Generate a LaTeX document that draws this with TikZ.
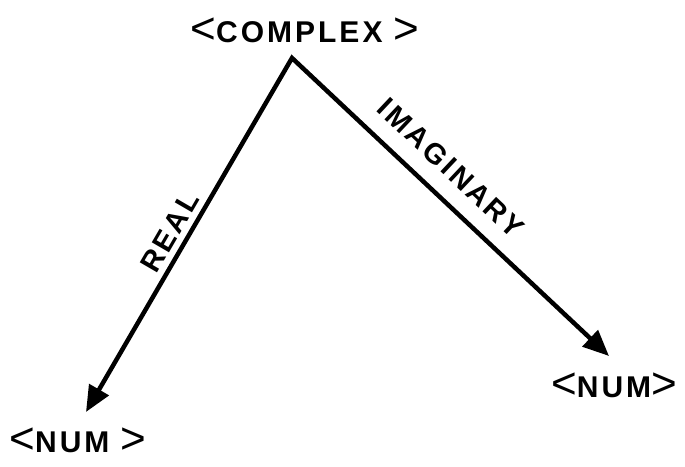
\documentclass[tikz,border=0pt]{standalone}
\usepackage{fontspec}
\setmainfont{Liberation Sans}
\usetikzlibrary{arrows.meta}
\newcommand{\lt}{{\mdseries\fontsize{44}{44}\selectfont\raisebox{-1pt}{<}}}
\newcommand{\gt}{{\mdseries\fontsize{44}{44}\selectfont\raisebox{-1pt}{>}}}
\begin{document}
\begin{tikzpicture}[x=1pt,y=-1pt,
  lbl/.style={inner sep=0pt, font=\fontsize{30}{30}\selectfont\bfseries\addfontfeature{LetterSpace=10}},
  elbl/.style={inner sep=0pt, font=\fontsize{29}{29}\selectfont\bfseries\addfontfeature{LetterSpace=10}},
  conn/.style={line width=4.5pt, miter limit=20, line join=miter,
     {Triangle[length=26pt,width=22pt]}-{Triangle[length=26pt,width=22pt]}}]
\useasboundingbox (0,0) rectangle (685,466);
\node[lbl] (top) at (305,31) {\lt COMPLEX \gt};
\node[lbl] (numL) at (78,441) {\lt NUM \gt};
\node[lbl] (numR) at (614,386) {\lt NUM\gt};
\coordinate (apex) at (292,58);
\coordinate (tipL) at (86,412);
\coordinate (tipR) at (609,356);
\draw[conn] (tipL) -- (apex) -- (tipR);
\node[elbl, rotate=59.8] (real) at (170,232) {REAL};
\node[elbl, rotate=-43.3] (imag) at (451,168) {IMAGINARY};
\end{tikzpicture}
\end{document}
